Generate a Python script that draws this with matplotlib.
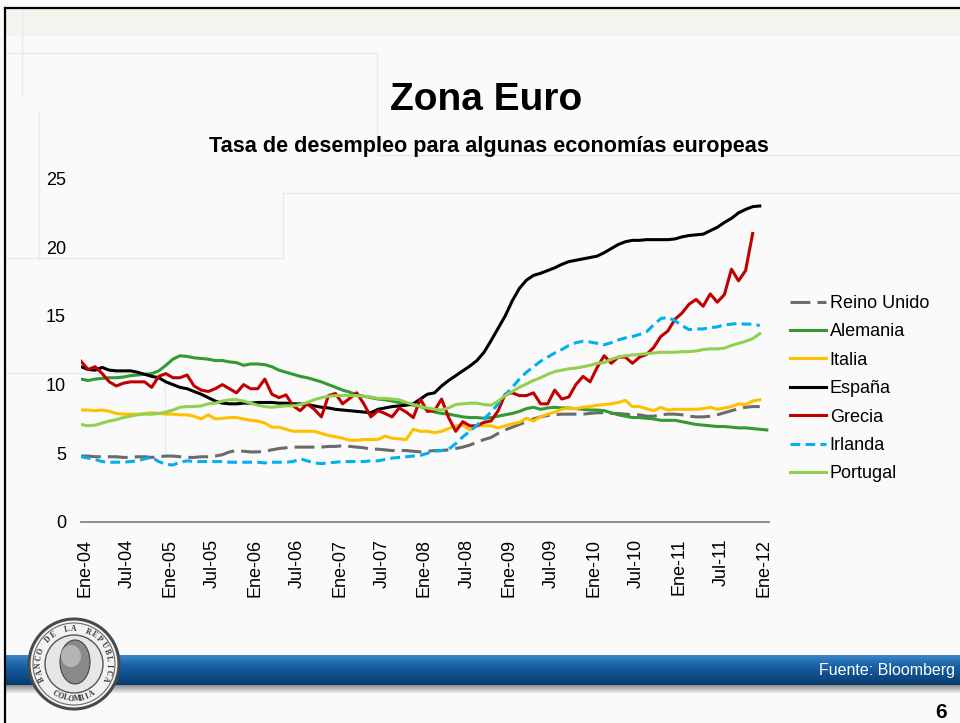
import numpy as np
import matplotlib
matplotlib.use("Agg")
import matplotlib.pyplot as plt
from matplotlib.patches import Circle, Ellipse, Rectangle
from matplotlib.transforms import ScaledTranslation
from matplotlib.colors import LinearSegmentedColormap

plt.rcParams['font.family'] = ['Liberation Sans', 'DejaVu Sans']

# ---------------- data (monthly, from Ene-04) ----------------
tick_labels = ["Ene-04", "Jul-04", "Ene-05", "Jul-05", "Ene-06", "Jul-06", "Ene-07", "Jul-07",
               "Ene-08", "Jul-08", "Ene-09", "Jul-09", "Ene-10", "Jul-10", "Ene-11", "Jul-11", "Ene-12"]
y_ticks = [0, 5, 10, 15, 20, 25]

names = ["Reino Unido", "Alemania", "Italia", "España", "Grecia", "Irlanda", "Portugal"]

reino_unido = [4.8, 4.8, 4.75, 4.75, 4.75, 4.75, 4.7, 4.7, 4.75, 4.75, 4.7, 4.75, 4.8, 4.8, 4.75, 4.7, 4.7, 4.75, 4.75, 4.8,
               4.9, 5.1, 5.2, 5.15, 5.1, 5.1, 5.15, 5.25, 5.35, 5.4,
               5.45, 5.45, 5.45, 5.45, 5.45, 5.5, 5.5, 5.55, 5.5, 5.45,
               5.4, 5.3, 5.3, 5.25, 5.2, 5.2, 5.2, 5.15, 5.1, 5.15,
               5.2, 5.2, 5.25, 5.35, 5.45, 5.6, 5.8, 6.0, 6.15, 6.45,
               6.7, 6.9, 7.1, 7.3, 7.5, 7.65, 7.75, 7.8, 7.85, 7.85,
               7.85, 7.85, 7.9, 7.95, 7.95, 7.9, 7.9, 7.85, 7.8, 7.8,
               7.7, 7.7, 7.8, 7.85, 7.85, 7.8, 7.7, 7.65, 7.65, 7.7,
               7.8, 7.95, 8.1, 8.25, 8.35, 8.4, 8.4]

alemania = [10.4, 10.3, 10.4, 10.45, 10.5, 10.5, 10.55, 10.65, 10.7, 10.75,
            10.8, 11.0, 11.4, 11.85, 12.1, 12.05, 11.95, 11.9, 11.85, 11.75,
            11.75, 11.65, 11.6, 11.4, 11.5, 11.5, 11.45, 11.3, 11.05, 10.9,
            10.75, 10.6, 10.5, 10.35, 10.2, 10.0, 9.8, 9.6, 9.45, 9.25,
            9.15, 9.05, 8.95, 8.9, 8.8, 8.7, 8.6, 8.5, 8.4, 8.2,
            8.0, 7.9, 7.85, 7.75, 7.65, 7.6, 7.6, 7.55, 7.6, 7.7,
            7.8, 7.9, 8.05, 8.25, 8.35, 8.2, 8.3, 8.35, 8.3, 8.3,
            8.25, 8.2, 8.15, 8.15, 8.1, 7.95, 7.8, 7.7, 7.6, 7.6,
            7.55, 7.5, 7.4, 7.4, 7.4, 7.3, 7.2, 7.1, 7.05, 7.0,
            6.95, 6.95, 6.9, 6.85, 6.85, 6.8, 6.75, 6.7]

italia = [8.15, 8.15, 8.1, 8.15, 8.05, 7.9, 7.85, 7.85, 7.85, 7.9,
          7.95, 7.9, 7.85, 7.85, 7.8, 7.8, 7.7, 7.5, 7.8, 7.5,
          7.55, 7.6, 7.6, 7.5, 7.4, 7.35, 7.2, 6.9, 6.9, 6.75,
          6.6, 6.6, 6.6, 6.6, 6.45, 6.3, 6.2, 6.1, 5.95, 5.95,
          6.0, 6.0, 6.0, 6.25, 6.1, 6.05, 6.0, 6.75, 6.6, 6.6,
          6.5, 6.6, 6.8, 7.0, 7.05, 6.7, 7.0, 7.0, 7.0, 6.85,
          7.0, 7.15, 7.25, 7.55, 7.35, 7.65, 7.85, 8.0, 8.2, 8.3,
          8.25, 8.35, 8.4, 8.5, 8.55, 8.6, 8.7, 8.85, 8.4, 8.4,
          8.25, 8.1, 8.35, 8.15, 8.2, 8.2, 8.2, 8.2, 8.25, 8.35,
          8.2, 8.3, 8.4, 8.6, 8.55, 8.8, 8.9]

espana = [11.3, 11.1, 11.05, 11.25, 11.05, 11.0, 11.0, 11.0, 10.9, 10.75,
          10.6, 10.5, 10.2, 10.0, 9.8, 9.7, 9.5, 9.3, 9.05, 8.8,
          8.65, 8.6, 8.6, 8.65, 8.65, 8.7, 8.7, 8.7, 8.65, 8.65,
          8.6, 8.6, 8.55, 8.45, 8.35, 8.3, 8.2, 8.15, 8.1, 8.05,
          8.0, 7.95, 8.2, 8.3, 8.4, 8.45, 8.5, 8.6, 8.95, 9.3,
          9.4, 9.9, 10.3, 10.65, 11.0, 11.35, 11.75, 12.35, 13.2, 14.1,
          15.0, 16.1, 17.0, 17.6, 17.95, 18.1, 18.3, 18.5, 18.75, 18.95,
          19.05, 19.15, 19.25, 19.35, 19.6, 19.9, 20.2, 20.4, 20.5, 20.5,
          20.55, 20.55, 20.55, 20.55, 20.6, 20.75, 20.85, 20.9, 20.95, 21.2,
          21.45, 21.8, 22.1, 22.5, 22.75, 22.95, 23.0]

grecia = [11.7, 11.1, 11.3, 10.8, 10.2, 9.9, 10.1, 10.2, 10.2, 10.2,
          9.8, 10.6, 10.8, 10.5, 10.5, 10.7, 9.9, 9.6, 9.5, 9.7,
          10.0, 9.7, 9.4, 10.0, 9.7, 9.7, 10.4, 9.3, 9.05, 9.25,
          8.45, 8.1, 8.6, 8.2, 7.65, 9.2, 9.35, 8.6, 9.0, 9.4,
          8.6, 7.65, 8.1, 7.9, 7.65, 8.3, 8.0, 7.6, 8.95, 8.05,
          8.1, 8.95, 7.6, 6.6, 7.3, 7.0, 7.0, 7.25, 7.35, 8.1,
          9.3, 9.4, 9.2, 9.2, 9.4, 8.6, 8.6, 9.6, 8.95, 9.1,
          10.0, 10.6, 10.2, 11.25, 12.1, 11.55, 12.0, 12.0, 11.55, 12.0,
          12.2, 12.7, 13.5, 13.9, 14.75, 15.2, 15.85, 16.2, 15.7, 16.6,
          16.0, 16.55, 18.4, 17.55, 18.3, 21.0]

irlanda = [4.75, 4.65, 4.55, 4.4, 4.35, 4.35, 4.35, 4.4, 4.45, 4.6,
           4.7, 4.4, 4.2, 4.15, 4.35, 4.45, 4.4, 4.4, 4.4, 4.4,
           4.4, 4.35, 4.35, 4.35, 4.35, 4.35, 4.3, 4.35, 4.35, 4.35,
           4.4, 4.6, 4.45, 4.3, 4.25, 4.3, 4.35, 4.4, 4.4, 4.4,
           4.4, 4.45, 4.45, 4.55, 4.65, 4.7, 4.75, 4.8, 4.85, 5.0,
           5.15, 5.2, 5.3, 5.7, 6.2, 6.6, 7.05, 7.5, 8.0, 8.6,
           9.25, 9.8, 10.4, 10.9, 11.3, 11.7, 12.0, 12.3, 12.55, 12.85,
           13.05, 13.15, 13.1, 13.0, 12.9, 13.05, 13.25, 13.4, 13.5, 13.65,
           13.85, 14.35, 14.8, 14.9, 14.65, 14.3, 14.0, 14.05, 14.05, 14.15,
           14.2, 14.35, 14.4, 14.45, 14.4, 14.4, 14.3]

portugal = [7.1, 7.0, 7.05, 7.2, 7.35, 7.45, 7.6, 7.7, 7.8, 7.85,
            7.85, 7.9, 8.0, 8.15, 8.35, 8.4, 8.4, 8.45, 8.6, 8.65,
            8.8, 8.9, 8.9, 8.8, 8.65, 8.5, 8.4, 8.35, 8.4, 8.45,
            8.45, 8.55, 8.7, 8.9, 9.05, 9.15, 9.2, 9.2, 9.2, 9.2,
            9.15, 9.1, 9.0, 9.0, 8.95, 8.9, 8.7, 8.55, 8.4, 8.3,
            8.2, 8.15, 8.3, 8.55, 8.6, 8.65, 8.65, 8.55, 8.5, 8.8,
            9.2, 9.5, 9.8, 10.05, 10.3, 10.5, 10.75, 10.95, 11.05, 11.15,
            11.2, 11.3, 11.4, 11.55, 11.6, 11.85, 12.0, 12.1, 12.15, 12.2,
            12.25, 12.3, 12.35, 12.35, 12.35, 12.4, 12.4, 12.45, 12.55, 12.6,
            12.6, 12.65, 12.85, 13.0, 13.15, 13.35, 13.7]

series = [reino_unido, alemania, italia, espana, grecia, irlanda, portugal]

# ---------------- styles ----------------
colors = ["#6b6b6b", "#339933", "#FFC000", "#000000", "#C00000", "#00B0F0", "#92D050"]
styles = [(0, (6.5, 2.3)), "-", "-", "-", "-", (0, (3.2, 1.7)), "-"]
LW = 2.2

W, H = 960, 723
fig = plt.figure(figsize=(W / 100, H / 100), dpi=100)
fig.patch.set_facecolor("#fafafa")

# ---------------- slide background / decorations ----------------
bg = fig.add_axes([0, 0, 1, 1], zorder=-5)
bg.set_xlim(0, W)
bg.set_ylim(H, 0)
bg.axis("off")

bg.add_patch(Rectangle((5, 8), W - 5, 28, facecolor="#f4f4ef", edgecolor="none"))
faint = dict(color="#e9e9e9", lw=1.0)
bg.plot([5, 377, 377, 960], [53, 53, 155, 155], **faint)
bg.plot([22, 22], [8, 95], **faint)
bg.plot([39, 39], [112, 260], **faint)
bg.plot([960, 283, 283, 5], [193, 193, 258, 258], **faint)
bg.plot([5, 165, 165], [373, 373, 452], **faint)

# slide frame
bg.plot([5, 5], [H, 8], color="black", lw=1.6, solid_capstyle="projecting")
bg.plot([5, W], [8, 8], color="black", lw=1.6, solid_capstyle="projecting")

# blue footer band with gradient
grad = np.linspace(0, 1, 64).reshape(-1, 1)
band_cmap = LinearSegmentedColormap.from_list("band", ["#3a87c9", "#1a63a6", "#0f4f8c", "#0a3c6c"])
bg.imshow(grad, extent=[5, W, 685, 655], cmap=band_cmap, aspect="auto", zorder=1)
shadow_cmap = LinearSegmentedColormap.from_list("sh", ["#8c8c8c", "#fafafa"])
bg.imshow(grad, extent=[5, W, 694, 685], cmap=shadow_cmap, aspect="auto", zorder=1)

bg.text(955, 670, "Fuente: Bloomberg", color="white", fontsize=11.5,
        ha="right", va="center", zorder=3)
bg.text(941, 712, "6", color="black", fontsize=15, fontweight="bold",
        ha="center", va="center", zorder=3)

# seal / logo
cx, cy = 74, 664
bg.add_patch(Circle((cx, cy), 45, facecolor="#f2f2f2", edgecolor="#4a4a4a", lw=2.2, zorder=4))
bg.add_patch(Circle((cx, cy), 41, facecolor="none", edgecolor="#6a6a6a", lw=0.8, zorder=4))
bg.add_patch(Circle((cx, cy), 29, facecolor="#e6e6e6", edgecolor="#555555", lw=1.0, zorder=4))
bg.add_patch(Ellipse((cx + 1, cy - 2), 30, 44, facecolor="#8a8a8a", edgecolor="#444444", lw=0.8, zorder=5))
bg.add_patch(Ellipse((cx - 3, cy - 8), 20, 22, facecolor="#b5b5b5", edgecolor="none", zorder=5))
top_txt = "BANCO DE LA REPUBLICA"
angs = np.linspace(205, -25, len(top_txt))
for ch, a in zip(top_txt, angs):
    r = np.deg2rad(a)
    bg.text(cx + 35 * np.cos(r), cy - 35 * np.sin(r), ch, rotation=a - 90,
            ha="center", va="center", fontsize=5.5, fontweight="bold",
            family=["Liberation Serif", "DejaVu Serif"], color="#333333", zorder=6)
bot_txt = "COLOMBIA"
angs = np.linspace(238, 302, len(bot_txt))
for ch, a in zip(bot_txt, angs):
    r = np.deg2rad(a)
    bg.text(cx + 35 * np.cos(r), cy - 35 * np.sin(r), ch, rotation=a + 90 - 360,
            ha="center", va="center", fontsize=5.5, fontweight="bold",
            family=["Liberation Serif", "DejaVu Serif"], color="#333333", zorder=6)

# ---------------- titles ----------------
fig.text(486.5 / W, 1 - 110 / H, "Zona Euro", fontsize=28, fontweight="bold",
         ha="center", va="baseline")
fig.text(488.5 / W, 1 - 152.3 / H, "Tasa de desempleo para algunas economías europeas",
         fontsize=15.6, fontweight="bold", ha="center", va="baseline")

# ---------------- chart ----------------
ax_l, ax_r, ax_t, ax_b = 80.7, 769.0, 178.5, 522.0
ax = fig.add_axes([ax_l / W, 1 - ax_b / H, (ax_r - ax_l) / W, (ax_b - ax_t) / H])
ax.patch.set_alpha(0)

handles = []
for name, vals, c, ls in zip(names, series, colors, styles):
    x = np.arange(len(vals))
    ln, = ax.plot(x, vals, color=c, lw=LW, linestyle=ls, label=name,
                  solid_joinstyle="round", dash_capstyle="butt")
    handles.append(ln)

ax.set_xlim(-0.04, 97.31)
ax.set_ylim(y_ticks[0], y_ticks[-1])
ax.set_yticks(y_ticks)
ax.set_yticklabels([str(v) for v in y_ticks])
ax.set_xticks(np.arange(len(tick_labels)) * 6)
ax.set_xticklabels(tick_labels, rotation=90)

for s in ["top", "right", "left"]:
    ax.spines[s].set_visible(False)
ax.spines["bottom"].set_color("#868686")
ax.spines["bottom"].set_linewidth(1.3)
ax.tick_params(axis="both", length=0, labelsize=13, colors="black")
ax.tick_params(axis="y", pad=10.6)
ax.tick_params(axis="x", pad=12.0)
offset = ScaledTranslation(4 / 100, 0, fig.dpi_scale_trans)
for lab in ax.get_xticklabels():
    lab.set_transform(lab.get_transform() + offset)

fig.legend(handles=handles, labels=names, loc="upper left",
           bbox_to_anchor=(790 / W, 1 - 295 / H), frameon=False, fontsize=13,
           handlelength=2.0, handletextpad=0.2, labelspacing=0.63,
           borderpad=0, borderaxespad=0)

fig.savefig("out.png", dpi=100, facecolor=fig.get_facecolor())
